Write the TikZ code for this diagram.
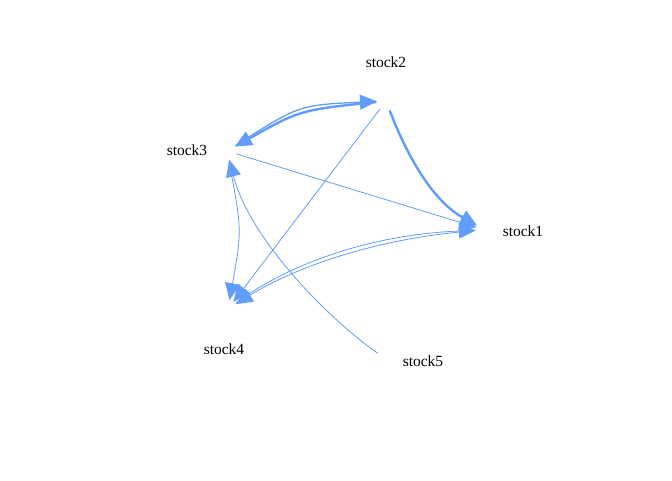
\documentclass[tikz,border=0pt]{standalone}
\usepackage{fontspec}
\setmainfont{Liberation Serif}
\usetikzlibrary{arrows.meta}
\definecolor{linkblue}{HTML}{619CFF}
\tikzset{
  tip/.tip={Triangle[length=17pt,width=15pt]},
}
\begin{document}
\begin{tikzpicture}[x=1pt,y=1pt,yscale=-1,
  lbl/.style={font=\fontsize{15.5}{18}\selectfont},
  link/.style={draw=linkblue,line width=0.8pt,
    shorten >=9pt,shorten <=10pt,-tip},
  heavylink/.style={link,line width=2.4pt}]
\useasboundingbox (0,0) rectangle (672,480);
\coordinate (s1) at (485,230);
\coordinate (s2) at (386,101);
\coordinate (s3) at (227,151);
\coordinate (s4) at (228,309);
\coordinate (s5) at (386,359);
\node[lbl] (t1) at (523,231) {stock1};
\node[lbl] (t2) at (386,62) {stock2};
\node[lbl] (t3) at (187,150) {stock3};
\node[lbl] (t4) at (224,349) {stock4};
\node[lbl] (t5) at (423,361) {stock5};
\path[heavylink] (s2) .. controls (403,145) and (428,198) .. (s1);
\path[heavylink] (s2) .. controls (300,110) .. (s3);
\path[link,line width=1.3pt] (s3) .. controls (299,105) .. (s2);
\path[link] (s2) -- (s4);
\path[link] (s3) -- (s1);
\path[link] (s3) .. controls (242,230) .. (s4);
\path[link] (s5) .. controls (330,320) and (250,240) .. (s3);
\path[link] (s4) .. controls (280,270) and (360,235) .. (s1);
\path[link] (s1) .. controls (362,239) and (282,275) .. (s4);
\end{tikzpicture}
\end{document}
